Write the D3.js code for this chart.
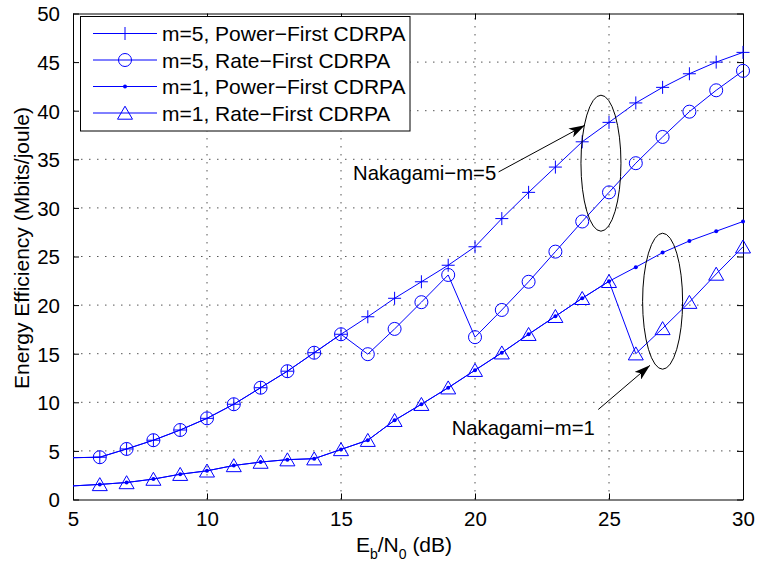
<!DOCTYPE html>
<html>
<head>
<meta charset="utf-8">
<script src="https://cdn.jsdelivr.net/npm/d3@7"></script>
<style>
    body { margin: 0; background: #fff; }
    text { font-family: "Liberation Sans", Arial, sans-serif; fill: #000; }
</style>
</head>
<body>
<script>
//Eb/N0 values (dB)
var ebn0 = [5, 6, 7, 8, 9, 10, 11, 12, 13, 14, 15, 16, 17, 18, 19, 20, 21, 22, 23, 24, 25, 26, 27, 28, 29, 30];

//energy efficiency (Mbits/joule) per scheme
var m5Power = [4.3, 4.35, 5.2, 6.1, 7.15, 8.35, 9.8, 11.5, 13.2, 15.1, 17.0, 18.8, 20.7, 22.4, 24.1, 26.0, 28.9, 31.6, 34.2, 36.8, 38.8, 40.8, 42.4, 43.8, 45.0, 46.0];
var m5Rate = [4.3, 4.35, 5.2, 6.1, 7.15, 8.35, 9.8, 11.5, 13.2, 15.1, 17.0, 14.95, 17.55, 20.3, 23.1, 16.7, 19.5, 22.4, 25.5, 28.6, 31.6, 34.6, 37.3, 39.9, 42.1, 44.1];
var m1Power = [1.4, 1.55, 1.75, 2.1, 2.6, 2.95, 3.5, 3.85, 4.1, 4.2, 5.15, 6.1, 8.15, 9.8, 11.5, 13.3, 15.1, 17.0, 18.85, 20.7, 22.45, 23.9, 25.4, 26.6, 27.6, 28.6];
var m1Rate = [1.4, 1.55, 1.75, 2.1, 2.6, 2.95, 3.5, 3.85, 4.1, 4.2, 5.15, 6.1, 8.15, 9.8, 11.5, 13.3, 15.1, 17.0, 18.85, 20.7, 22.45, 15.0, 17.6, 20.3, 23.2, 26.0];

var seriesNames = ["m=5, Power\u2212First CDRPA", "m=5, Rate\u2212First CDRPA", "m=1, Power\u2212First CDRPA", "m=1, Rate\u2212First CDRPA"];
var seriesMarkers = ["plus", "circle", "dot", "triangle"];

//tick values
var xTicks = [5, 10, 15, 20, 25, 30];
var yTicks = [0, 5, 10, 15, 20, 25, 30, 35, 40, 45, 50];

//annotation labels, ellipse centres and arrow ends in data units
var noteLabels = ["Nakagami\u2212m=5", "Nakagami\u2212m=1"];
var noteAnchors = [[15.45, 32.9], [19.13, 6.6]];
var noteEllipses = [[24.7, 34.6], [27.0, 20.4]];
var noteArrows = [[[20.88, 33.7], [24.1, 38.5]], [[24.6, 9.26], [26.53, 13.8]]];

var width = 758,
    height = 565;

var svg = d3.select("body")
    .append("svg")
    .attr("width", width)
    .attr("height", height);

var x = d3.scaleLinear().domain([5, 30]).range([73, 743]);
var y = d3.scaleLinear().domain([0, 50]).range([499.5, 13.5]);

var blue = "#0000ff";

//grid lines
svg.append("g")
    .selectAll("line")
    .data(xTicks.slice(1, -1))
    .enter()
    .append("line")
    .attr("x1", function(d){ return x(d); })
    .attr("x2", function(d){ return x(d); })
    .attr("y1", y(0))
    .attr("y2", y(50))
    .attr("stroke", "#555")
    .attr("stroke-dasharray", "1.5,6.5");

svg.append("g")
    .selectAll("line")
    .data(yTicks.slice(1, -1))
    .enter()
    .append("line")
    .attr("x1", x(5))
    .attr("x2", x(30))
    .attr("y1", function(d){ return y(d); })
    .attr("y2", function(d){ return y(d); })
    .attr("stroke", "#555")
    .attr("stroke-dasharray", "1.5,6.5");

//axes, ticks point inward
var xAxis = svg.append("g")
    .attr("transform", "translate(0," + y(0) + ")")
    .call(d3.axisBottom(x).tickValues(xTicks).tickSizeInner(-6).tickSizeOuter(0).tickPadding(12));
var xAxisTop = svg.append("g")
    .attr("transform", "translate(0," + y(50) + ")")
    .call(d3.axisTop(x).tickValues(xTicks).tickSizeInner(-6).tickSizeOuter(0).tickFormat(""));
var yAxis = svg.append("g")
    .attr("transform", "translate(" + x(5) + ",0)")
    .call(d3.axisLeft(y).tickValues(yTicks).tickSizeInner(-6).tickSizeOuter(0).tickPadding(13));
var yAxisRight = svg.append("g")
    .attr("transform", "translate(" + x(30) + ",0)")
    .call(d3.axisRight(y).tickValues(yTicks).tickSizeInner(-6).tickSizeOuter(0).tickFormat(""));

svg.selectAll(".domain").attr("stroke", "#000");
svg.selectAll(".tick line").attr("stroke", "#000");
svg.selectAll(".tick text")
    .style("font-family", "'Liberation Sans', Arial, sans-serif")
    .style("font-size", "20.5px")
    .attr("fill", "#000");
yAxis.selectAll(".tick text").attr("dy", "0.36em");

//axis labels
svg.append("text")
    .attr("x", 404)
    .attr("y", 552)
    .attr("text-anchor", "middle")
    .style("font-size", "21px")
    .call(function(t){
        t.append("tspan").text("E");
        t.append("tspan").attr("dy", 7).style("font-size", "14px").text("b");
        t.append("tspan").attr("dy", -7).text("/N");
        t.append("tspan").attr("dy", 7).style("font-size", "14px").text("0");
        t.append("tspan").attr("dy", -7).text(" (dB)");
    });

svg.append("text")
    .attr("transform", "translate(29,248) rotate(-90)")
    .attr("text-anchor", "middle")
    .style("font-size", "21px")
    .text("Energy Efficiency (Mbits/joule)");

//marker drawing
function drawMarker(sel, kind){
    if (kind === "plus") {
        sel.append("path").attr("d", "M-6.5,0H6.5M0,-6.5V6.5")
            .attr("stroke", blue).attr("fill", "none");
    } else if (kind === "circle") {
        sel.append("circle").attr("r", 6.5)
            .attr("stroke", blue).attr("fill", "none");
    } else if (kind === "dot") {
        sel.append("circle").attr("r", 2)
            .attr("fill", blue);
    } else {
        sel.append("path").attr("d", "M0,-6.8L7.5,6.2L-7.5,6.2Z")
            .attr("stroke", blue).attr("fill", "none");
    }
}

var allSeries = [m5Power, m5Rate, m1Power, m1Rate];

var line = d3.line()
    .x(function(d){ return x(d[0]); })
    .y(function(d){ return y(d[1]); });

allSeries.forEach(function(vals, i){
    var pts = ebn0.map(function(e, j){ return [e, vals[j]]; });

    svg.append("path")
        .datum(pts)
        .attr("d", line)
        .attr("fill", "none")
        .attr("stroke", blue)
        .attr("stroke-width", 1);

    //markers start at the second point, the first sits on the axis edge
    svg.append("g")
        .selectAll("g")
        .data(pts.slice(1))
        .enter()
        .append("g")
        .attr("transform", function(d){ return "translate(" + x(d[0]) + "," + y(d[1]) + ")"; })
        .each(function(){ drawMarker(d3.select(this), seriesMarkers[i]); });
});

//annotations
svg.append("defs")
    .append("marker")
    .attr("id", "head")
    .attr("viewBox", "0 0 16 10")
    .attr("refX", 16)
    .attr("refY", 5)
    .attr("markerWidth", 16)
    .attr("markerHeight", 10)
    .attr("markerUnits", "userSpaceOnUse")
    .attr("orient", "auto")
    .append("path")
    .attr("d", "M0,0L16,5L0,10L4,5Z")
    .attr("fill", "#000");

noteEllipses.forEach(function(c){
    svg.append("ellipse")
        .attr("cx", x(c[0]))
        .attr("cy", y(c[1]))
        .attr("rx", 20)
        .attr("ry", 68)
        .attr("fill", "none")
        .attr("stroke", "#000");
});

noteArrows.forEach(function(a){
    svg.append("line")
        .attr("x1", x(a[0][0]))
        .attr("y1", y(a[0][1]))
        .attr("x2", x(a[1][0]))
        .attr("y2", y(a[1][1]))
        .attr("stroke", "#000")
        .attr("marker-end", "url(#head)");
});

noteLabels.forEach(function(t, i){
    svg.append("text")
        .attr("x", x(noteAnchors[i][0]))
        .attr("y", y(noteAnchors[i][1]))
        .style("font-size", "20.3px")
        .text(t);
});

//legend
var legend = svg.append("g");
legend.append("rect")
    .attr("x", 80.5)
    .attr("y", 16.5)
    .attr("width", 329.5)
    .attr("height", 114.5)
    .attr("fill", "#fff")
    .attr("stroke", "#000");

seriesNames.forEach(function(name, i){
    var ly = 33.5 + i * 26.5;
    legend.append("line")
        .attr("x1", 93)
        .attr("x2", 157)
        .attr("y1", ly)
        .attr("y2", ly)
        .attr("stroke", blue);
    var g = legend.append("g").attr("transform", "translate(125," + ly + ")");
    drawMarker(g, seriesMarkers[i]);
    legend.append("text")
        .attr("x", 162)
        .attr("y", ly)
        .attr("dy", "0.36em")
        .style("font-size", "21px")
        .text(name);
});
</script>
</body>
</html>
